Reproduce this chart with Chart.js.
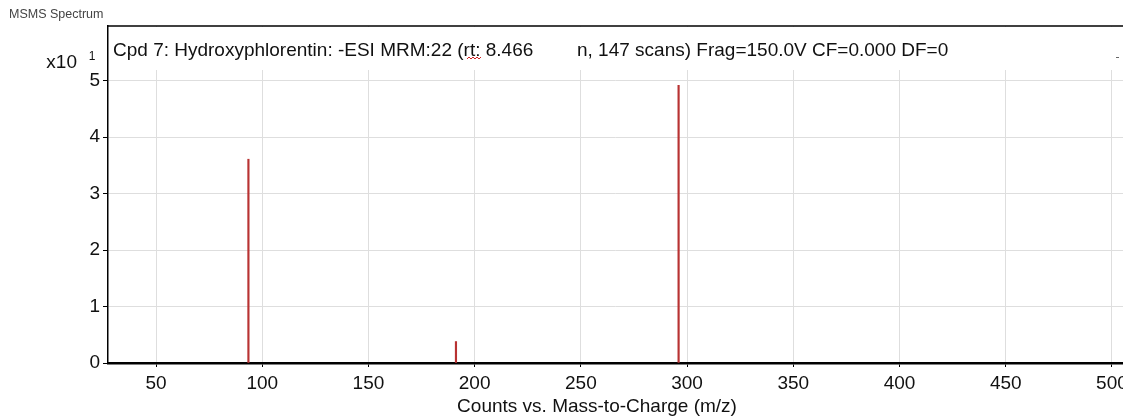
<!DOCTYPE html>
<html>
<head>
<meta charset="utf-8">
<script src="https://cdn.jsdelivr.net/npm/chart.js@4.4.1/dist/chart.umd.min.js"></script>
<style>
  html, body { margin: 0; padding: 0; background: #fff; }
  #wrap { width: 1123px; height: 417px; }
</style>
</head>
<body>
<div id="wrap"><canvas id="spectrum" width="1123" height="417"></canvas></div>
<script>
// fragment peaks (m/z, counts x10^1)
const peakMz = [93.5, 191.2, 296.0];
const peakCounts = [3.61, 0.38, 4.92];
const xTicks = [50, 100, 150, 200, 250, 300, 350, 400, 450, 500];
const yTicks = [0, 1, 2, 3, 4, 5];

const titleLeft = 'Cpd 7: Hydroxyphlorentin: -ESI MRM:22 (rt: 8.466';
const titleRight = 'n, 147 scans) Frag=150.0V CF=0.000 DF=0';

const FONT = '"Liberation Sans", Arial, sans-serif';

const decorations = {
  id: 'decorations',
  beforeDatasetsDraw(chart) {
    const { ctx, chartArea } = chart;
    // header strip inside the plot, grid stops below it
    ctx.save();
    ctx.fillStyle = '#fff';
    ctx.fillRect(chartArea.left + 1, chartArea.top + 1, chartArea.right - chartArea.left, 43);
    ctx.restore();
  },
  afterDraw(chart) {
    const { ctx, chartArea } = chart;
    ctx.save();
    // frame top
    ctx.strokeStyle = '#000';
    ctx.lineWidth = 1.5;
    ctx.beginPath();
    ctx.moveTo(chartArea.left, chartArea.top);
    ctx.lineTo(chartArea.right, chartArea.top);
    ctx.stroke();

    ctx.textBaseline = 'alphabetic';
    ctx.fillStyle = '#444';
    ctx.font = '12.5px ' + FONT;
    ctx.fillText('MSMS Spectrum', 9, 18);

    ctx.fillStyle = '#111';
    ctx.font = '19px ' + FONT;
    ctx.fillText(titleLeft, 113, 56);
    ctx.fillText(titleRight, 577, 56);

    // spell-check squiggle under "rt"
    ctx.strokeStyle = '#d02020';
    ctx.lineWidth = 1;
    ctx.beginPath();
    for (let i = 0; i <= 7; i++) {
      const px = 467 + i * 2;
      const py = 58 + (i % 2 ? -1 : 1);
      if (i === 0) ctx.moveTo(px, py); else ctx.lineTo(px, py);
    }
    ctx.stroke();

    ctx.fillStyle = '#666';
    ctx.fillRect(1116, 57, 3, 1);

    // exponent of the intensity axis
    ctx.fillStyle = '#111';
    ctx.font = '19px ' + FONT;
    ctx.textAlign = 'right';
    ctx.fillText('x10', 77, 68);
    ctx.font = '12px ' + FONT;
    ctx.textAlign = 'center';
    ctx.fillText('1', 92, 60);

    ctx.font = '19px ' + FONT;
    ctx.fillText('Counts vs. Mass-to-Charge (m/z)', 597, 412);
    ctx.restore();
  }
};

new Chart(document.getElementById('spectrum'), {
  type: 'bar',
  data: {
    datasets: [{
      data: peakMz.map((mz, i) => ({ x: mz, y: peakCounts[i] })),
      backgroundColor: '#b83232',
      barThickness: 1.5
    }]
  },
  options: {
    responsive: false,
    animation: false,
    layout: { padding: { top: 26, left: 0, right: 0, bottom: 0 } },
    plugins: { legend: { display: false }, tooltip: { enabled: false } },
    scales: {
      x: {
        type: 'linear',
        offset: false,
        min: 27.4,
        max: 505.2,
        afterFit: s => {
          s.height = 54;
          s.paddingLeft = 0;
          s.paddingRight = 0;
        },
        afterBuildTicks: s => { s.ticks = xTicks.map(v => ({ value: v })); },
        grid: { offset: false, color: '#dedede', lineWidth: 1, tickColor: '#000', tickLength: 4 },
        border: { display: true, color: '#000', width: 2.5 },
        ticks: { color: '#111', font: { family: FONT, size: 19 }, padding: 5, maxRotation: 0 }
      },
      y: {
        min: 0,
        max: 5.97,
        afterFit: s => { s.width = 108; },
        afterBuildTicks: s => { s.ticks = yTicks.map(v => ({ value: v })); },
        grid: { color: '#dedede', lineWidth: 1, tickColor: '#000', tickLength: 5 },
        border: { display: true, color: '#000', width: 1.5 },
        ticks: { color: '#111', font: { family: FONT, size: 19 }, padding: 3 }
      }
    }
  },
  plugins: [decorations]
});
</script>
</body>
</html>
